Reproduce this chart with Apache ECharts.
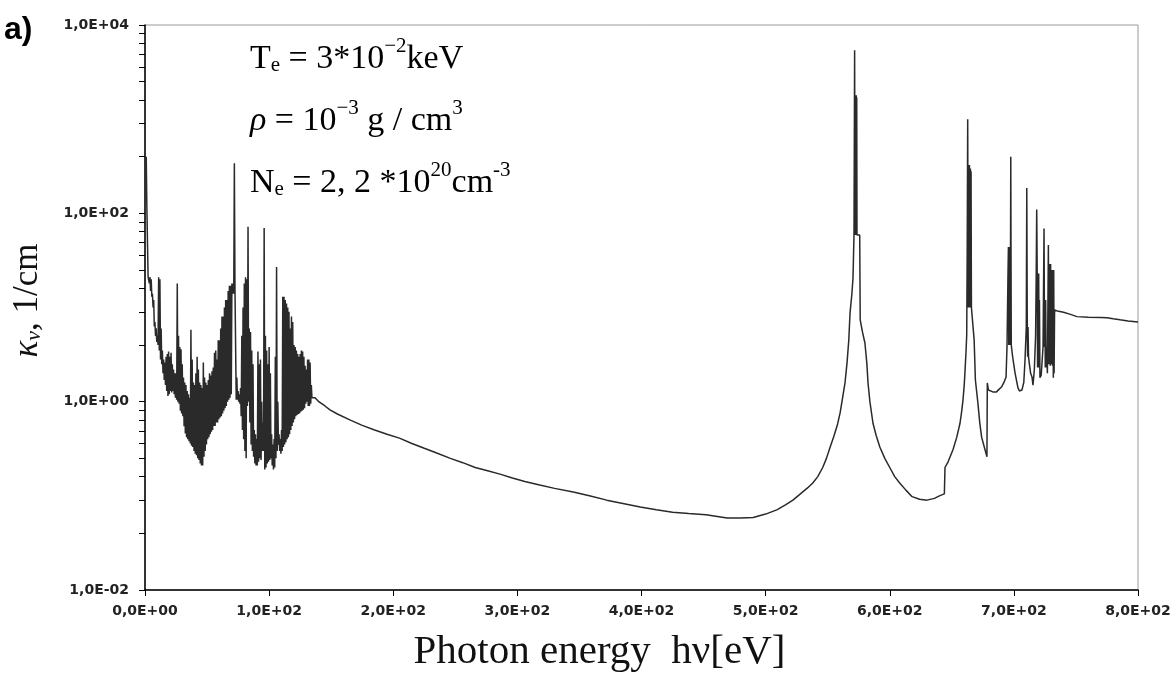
<!DOCTYPE html>
<html>
<head>
<meta charset="utf-8">
<script src="https://cdn.jsdelivr.net/npm/echarts@6/dist/echarts.min.js"></script>
<style>html,body{margin:0;padding:0;background:#fff}#c{width:1176px;height:680px}</style>
</head>
<body>
<div id="c"></div>
<script>
// ---- Data ----
// Dense line-absorption band, one entry per eV (upper and lower envelope of the oscillation)
const bandStartEV = 1;
const bandTop = [400,117,21,21,20,14,12,7,6,5,21,20,6,3.5,2.8,2.6,3.0,3.2,3.4,3.0,3.3,2.5,2.2,2.0,2.0,18,5,3.8,3.6,2.5,
  1.8,1.6,1.5,1.3,1.2,1.1,5.8,2.8,1.6,1.5,2.0,3.0,2.2,1.6,1.5,1.4,2.6,1.8,1.6,1.5,1.7,2.0,1.9,2.1,2.3,3.3,3.5,2.8,4.5,4.5,
  6,8,8,10,12,12,15,17,17,18,18,340,15,1.8,1.3,1.2,1.4,5,10,18,21,20,72,6,5.5,3.5,2.5,0.5,0.45,0.4,
  3.4,2.5,2.8,1.0,0.6,70,5,3.5,2.5,3.8,2.0,0.45,0.35,0.4,3,27,1.0,0.45,0.4,0.5,13,13,12,11,10,9,6,8,7,4,
  3.8,3.5,3.2,3.0,3.2,3.5,3.4,3.0,2.4,2.2,2.8,2.8,2.6,1.5];
const bandBottom = [117,21,18,15,13,10,6.3,5,4.3,4.0,3.5,2.8,2.5,2.0,1.7,1.5,1.3,1.15,1.2,1.3,1.25,1.3,1.2,1.1,1.05,1.0,0.95,0.8,0.75,0.7,
  0.55,0.46,0.42,0.4,0.38,0.36,0.34,0.33,0.3,0.28,0.27,0.25,0.24,0.22,0.21,0.21,0.26,0.3,0.35,0.4,0.42,0.45,0.48,0.5,0.55,0.55,0.6,0.6,0.65,0.68,
  0.7,0.75,0.8,0.85,0.9,1.0,1.05,1.1,1.2,14,14,15,1.05,1.05,1.0,0.95,0.7,0.5,0.4,0.3,0.25,0.9,1.0,0.6,0.35,0.3,0.26,0.22,0.21,0.21,
  0.23,0.25,0.24,0.3,0.3,0.19,0.2,0.22,0.23,0.24,0.25,0.21,0.19,0.2,0.25,0.3,0.35,0.3,0.28,0.3,0.33,0.35,0.37,0.4,0.42,0.45,0.5,0.55,0.6,0.65,
  0.7,0.72,0.74,0.75,0.78,0.8,0.82,0.85,0.95,1.0,0.9,0.9,0.95,1.1];

// Continuum and resonance lines above the band
const curveEnergy = [135,137,140,145,149,155,165,175,185,195,205,215,225,235,246,256,266,276,286,296,306,318,330,345,358,372,385,399,412,425,438,452,469,480,490,500,509,516,522,528,534,538,542,546,549,552,555,558,560,562,564,565.6,567,568,569.5,570.4,571.2,
  571.7,572.0,572.2,572.4,572.6,572.8,573.0,573.2,573.4,573.6,575.8,576.2,578,580,581.5,582.5,584,586.5,589,592,596,600,604,608,613,618,624,630,636,640,644,
  644.5,647,651,654,656.6,658,659,660,660.6,661.5,662,662.4,662.8,663.2,663.4,663.6,663.8,664.0,664.2,664.4,664.6,664.8,665.0,665.2,665.5,665.8,667,668,669,671,672.5,674,676.7,678.3,
  678.6,679.5,683,686,688,690,692,693.7,694.5,695.2,695.6,695.9,696.2,696.5,696.8,697.1,697.5,697.9,699,701,703.3,704.5,706.5,708,709,710,710.4,710.8,711.1,711.4,711.8,712.5,713.5,714.6,715.4,716.5,717.5,
  718,718.4,718.8,719.1,719.4,719.7,720,720.3,720.6,721,722,723.5,724.3,724.7,725,725.3,725.6,726,726.4,727,727.8,728.1,728.4,728.7,729,729.3,729.6,729.9,730.2,730.5,730.8,731.1,731.4,731.8,732.1,732.4,732.8,
  735,740,745,750.8,760,770,775,780,785.5,792,800];
const curveKappa = [1.15,1.1,1.0,0.9,0.82,0.74,0.64,0.56,0.5,0.45,0.41,0.36,0.32,0.285,0.25,0.225,0.2,0.185,0.17,0.155,0.142,0.13,0.12,0.11,0.1,0.09,0.083,0.076,0.071,0.067,0.065,0.063,0.058,0.058,0.059,0.064,0.071,0.08,0.09,0.105,0.122,0.137,0.16,0.2,0.25,0.33,0.43,0.58,0.76,1.1,1.6,2.6,4.5,8.7,14,20.6,60,
  5400,59,1800,59,1800,60,1800,60,1700,59,59,7.4,5.5,4.2,2.6,1.58,1.0,0.59,0.44,0.33,0.25,0.2,0.16,0.137,0.115,0.098,0.092,0.09,0.094,0.1,0.105,
  0.2,0.23,0.31,0.42,0.59,0.8,1.04,1.5,2.07,3.5,5.1,40,1000,10,326,10,326,10,326,10,300,10,300,10,280,10,10,4.5,1.7,0.97,0.6,0.42,0.31,0.26,
  1.58,1.33,1.27,1.27,1.35,1.43,1.6,1.83,4.0,20,44,4,44,4,44,4,400,4.0,3.0,2.0,1.4,1.3,1.33,1.6,2.8,6.2,186,6.2,3.0,6.2,3.0,2.5,2.0,1.83,1.5,2.2,5,
  23,110,23,2.3,23,2.3,23,2.3,12,1.8,1.9,3.8,69,3.8,12,2.3,12,2.3,3.8,2.0,46,2.5,29,2.5,29,2.4,29,2.5,25,2.6,25,2.4,25,1.8,25,2.0,9.4,
  9.2,8.9,8.5,8.0,7.9,7.85,7.8,7.6,7.4,7.2,7.0];

const xTicks = [0,100,200,300,400,500,600,700,800];
const yMajorTicks = [0.01,1,100,10000];

// ---- build series data ----
const seriesData = [];
for (let i = 0; i < bandTop.length; i++) {
  seriesData.push([bandStartEV + i, bandTop[i]]);
  seriesData.push([bandStartEV + i + 0.5, bandBottom[i]]);
}
for (let i = 0; i < curveEnergy.length; i++) seriesData.push([curveEnergy[i], curveKappa[i]]);

// log-100 axis minor ticks (k^2 multiples within each two-decade span)
const yTickValues = [];
[-2, 0, 2].forEach(n => { for (let k = 1; k <= 9; k++) yTickValues.push(Math.pow(10, n) * k * k); });
yTickValues.push(10000);

function sci(v) {
  if (v === 0) return '0,0E+00';
  const e = Math.round(Math.floor(Math.log10(Math.abs(v)) + 1e-9));
  const m = v / Math.pow(10, e);
  return m.toFixed(1).replace('.', ',') + 'E' + (e < 0 ? '-' : '+') + String(Math.abs(e)).padStart(2, '0');
}

const serif = 'Liberation Serif';
const labelFont = {fontFamily: 'DejaVu Sans', fontSize: 14, fontWeight: 'bold', color: '#222'};
const big = 34, small = 21;
const rich = {
  m: {fontFamily: serif, fontSize: big, lineHeight: 40, verticalAlign: 'bottom', color: '#000'},
  i: {fontFamily: serif, fontSize: big, lineHeight: 40, verticalAlign: 'bottom', fontStyle: 'italic', color: '#000'},
  sup: {fontFamily: serif, fontSize: small, lineHeight: 24, verticalAlign: 'top', color: '#000'},
  sub: {fontFamily: serif, fontSize: small, lineHeight: 24, verticalAlign: 'bottom', color: '#000'}
};

const chart = echarts.init(document.getElementById('c'), null, {renderer: 'canvas'});
chart.setOption({
  animation: false,
  backgroundColor: '#fff',
  grid: {left: 145, right: 38, top: 25, bottom: 90, show: true, borderColor: '#9a9a9a', borderWidth: 1},
  xAxis: {
    type: 'value', min: 0, max: 800, interval: 100,
    name: 'Photon energy  h\u03bd[eV]', nameLocation: 'middle', nameGap: 42,
    nameTextStyle: {fontFamily: serif, fontSize: 41, color: '#111', padding: [0, 84, 0, 0]},
    axisLine: {show: true, lineStyle: {color: '#000', width: 1.5}},
    axisTick: {show: true, inside: false, length: 6, lineStyle: {color: '#000'}},
    axisLabel: Object.assign({margin: 14, formatter: v => sci(v), customValues: xTicks}, labelFont),
    splitLine: {show: false}
  },
  yAxis: {
    type: 'log', logBase: 100, min: 0.01, max: 10000,
    name: '{k|\u03ba}{s|\u03bd}{m|, 1/cm}', nameLocation: 'middle', nameGap: 100, nameRotate: 90,
    nameTextStyle: {padding: [0, 0, 0, 14], rich: {
      k: {fontFamily: serif, fontSize: 35, fontStyle: 'italic', color: '#111', lineHeight: 40, verticalAlign: 'bottom'},
      s: {fontFamily: serif, fontSize: 22, fontStyle: 'italic', color: '#111', lineHeight: 24, verticalAlign: 'bottom'},
      m: {fontFamily: serif, fontSize: 35, color: '#111', lineHeight: 40, verticalAlign: 'bottom'}
    }},
    axisLine: {show: true, lineStyle: {color: '#000', width: 1.5}},
    axisTick: {show: true, inside: false, length: 6, lineStyle: {color: '#000'}, customValues: yTickValues},
    axisLabel: Object.assign({margin: 16, formatter: v => sci(v), customValues: yMajorTicks}, labelFont),
    splitLine: {show: false}, minorTick: {show: false}
  },
  graphic: [
    {type: 'text', left: 4, top: 14, style: {text: 'a)', font: 'bold 32px "Liberation Sans"', fill: '#000'}},
    {type: 'text', left: 250, top: 36, style: {text: '{m|T}{sub|e}{m| = 3*10}{sup|\u22122}{m|keV}', rich: rich}},
    {type: 'text', left: 250, top: 98, style: {text: '{i|\u03c1}{m| = 10}{sup|\u22123}{m| g / cm}{sup|3}', rich: rich}},
    {type: 'text', left: 250, top: 160, style: {text: '{m|N}{sub|e}{m| = 2, 2 *10}{sup|20}{m|cm}{sup|-3}', rich: rich}}
  ],
  series: [{
    type: 'line', data: seriesData, showSymbol: false, symbol: 'none',
    lineStyle: {color: '#2a2a2a', width: 1.5}, clip: true, z: 3
  }]
});
</script>
</body>
</html>
